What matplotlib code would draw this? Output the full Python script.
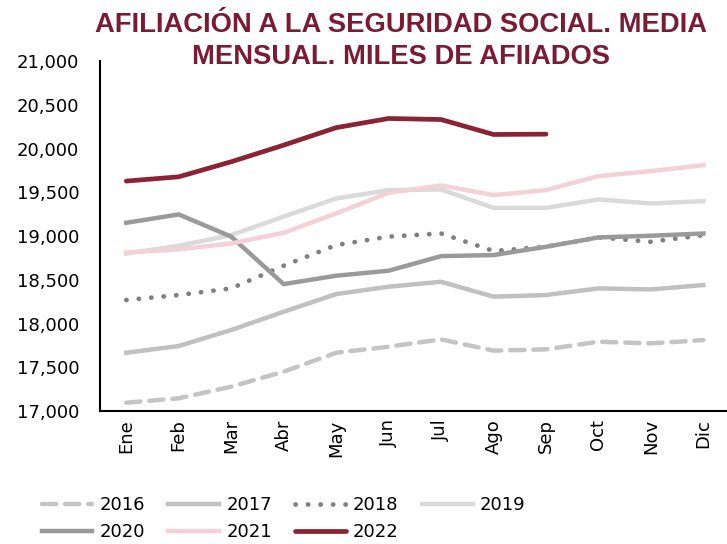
import numpy as np
import matplotlib.pyplot as plt
from matplotlib.ticker import FuncFormatter

meses = ["Ene", "Feb", "Mar", "Abr", "May", "Jun", "Jul", "Ago", "Sep", "Oct", "Nov", "Dic"]

a2016 = [17095, 17145, 17278, 17450, 17666, 17735, 17819, 17690, 17705, 17792, 17773, 17811]
a2017 = [17666, 17743, 17926, 18135, 18337, 18421, 18478, 18307, 18326, 18402, 18390, 18440]
a2018 = [18269, 18326, 18402, 18661, 18897, 18994, 19030, 18830, 18878, 18985, 18935, 19011]
a2019 = [18800, 18890, 19011, 19223, 19430, 19526, 19533, 19323, 19323, 19419, 19373, 19400]
a2020 = [19152, 19248, 18994, 18451, 18547, 18604, 18771, 18783, 18878, 18985, 19004, 19030]
a2021 = [18813, 18848, 18916, 19038, 19259, 19495, 19579, 19469, 19526, 19686, 19743, 19811]
a2022 = [19629, 19678, 19850, 20040, 20240, 20345, 20333, 20162, 20166]

titulo = "AFILIACIÓN A LA SEGURIDAD SOCIAL. MEDIA\nMENSUAL. MILES DE AFIIADOS"

fig = plt.figure(figsize=(7.27, 5.44), dpi=100)
ax = fig.add_axes([0.1376, 0.2445, 0.8624, 0.643])

x = np.arange(len(meses))
l16, = ax.plot(x, a2016, color="#c4c4c4", lw=3.2, dashes=(3.2, 2.0), dash_capstyle="round", label="2016")
l17, = ax.plot(x, a2017, color="#c0c0c0", lw=3.2, label="2017")
l18, = ax.plot(x, a2018, color="#7f7f7f", lw=3.4, linestyle=(0, (0.05, 2.6)), dash_capstyle="round", label="2018")
l19, = ax.plot(x, a2019, color="#dadada", lw=3.2, label="2019")
l20, = ax.plot(x, a2020, color="#9a9a9a", lw=3.2, label="2020")
l21, = ax.plot(x, a2021, color="#f3d1d6", lw=3.2, label="2021")
l22, = ax.plot(x[:len(a2022)], a2022, color="#8a2333", lw=3.4, solid_capstyle="round", label="2022")

ax.set_ylim(17000, 21000)
ax.set_xlim(-0.5, 11.45)
ax.set_yticks(np.arange(17000, 21001, 500))
ax.yaxis.set_major_formatter(FuncFormatter(lambda v, p: f"{int(v):,}"))
ax.set_xticks(x)
ax.set_xticklabels(meses, rotation=90)
ax.tick_params(axis="both", length=0, labelsize=13, colors="black")
ax.tick_params(axis="y", pad=15)
ax.tick_params(axis="x", pad=6)
for s in ["top", "right"]:
    ax.spines[s].set_visible(False)
for s in ["left", "bottom"]:
    ax.spines[s].set_linewidth(1.5)

fig.text(0.552, 0.978, titulo, ha="center", va="top", fontsize=19.7, fontweight="bold",
         color="#7a1a33", linespacing=1.3, family=["Liberation Sans", "DejaVu Sans"])

hs = [l16, l20, l17, l21, l18, l22, l19]
fig.legend(handles=hs, labels=[h.get_label() for h in hs], ncol=4, loc="lower left",
           bbox_to_anchor=(0.035, -0.025), frameon=False, fontsize=13, handlelength=2.8,
           columnspacing=1.3, handletextpad=0.4, labelspacing=0.5)

fig.savefig("out.png", dpi=100)
